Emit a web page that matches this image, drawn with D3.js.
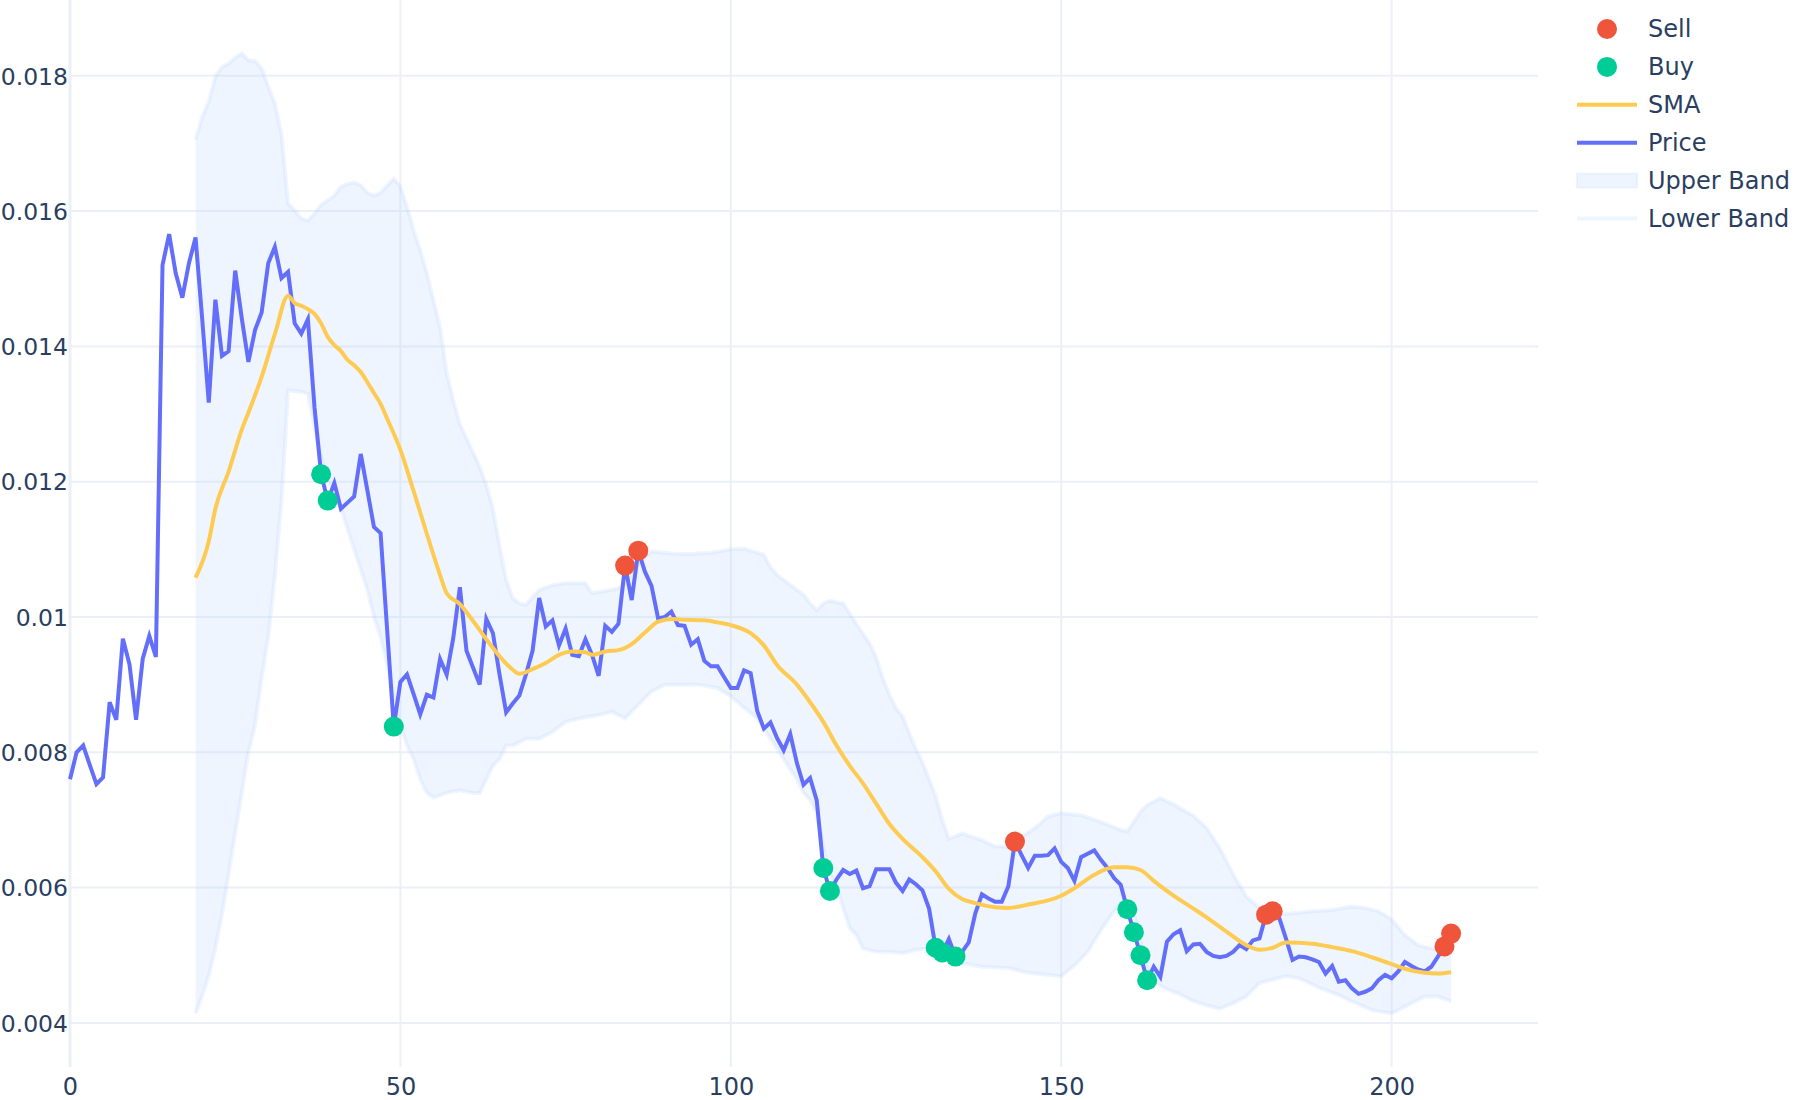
<!DOCTYPE html>
<html><head><meta charset="utf-8">
<script src="https://cdn.jsdelivr.net/npm/d3@7"></script>
<style>html,body{margin:0;padding:0;background:#fff}svg{display:block}</style>
</head><body>
<svg id="chart" width="1800" height="1100"></svg>
<script>
// ---------------- data ----------------
const price = [
0.0076,0.0080,0.0081,0.00781,0.00753,0.00763,0.00874,0.00848,0.00968,0.0093,
0.00848,0.00938,0.00972,0.00941,0.0152,0.01566,0.01508,0.01472,0.01523,0.01561,
0.01441,0.01317,0.01469,0.01386,0.01393,0.01512,0.01441,0.01377,0.01424,0.0145,
0.01523,0.01547,0.01501,0.0151,0.01434,0.01419,0.0144,0.0131,0.01211,0.01172,
0.01198,0.0116,0.01169,0.01178,0.01241,0.01187,0.01133,0.01124,0.0098,0.00838,
0.00904,0.00915,0.00886,0.00856,0.00885,0.00881,0.00938,0.00915,0.00969,0.01044,
0.0095,0.00925,0.009,0.00997,0.00976,0.00915,0.00859,0.00872,0.00884,0.00915,
0.0095,0.01028,0.00986,0.00995,0.00958,0.00983,0.00944,0.00942,0.00967,0.00944,
0.00913,0.00987,0.00978,0.0099,0.01076,0.01025,0.01098,0.01067,0.01046,0.00998,
0.01,0.01008,0.00988,0.00987,0.00959,0.00967,0.00935,0.00927,0.00927,0.00911,
0.00895,0.00895,0.00921,0.00917,0.00861,0.00835,0.00844,0.00821,0.00803,0.00827,
0.00784,0.00752,0.00762,0.00729,0.00629,0.00595,0.00612,0.00626,0.0062,0.00625,
0.00599,0.00602,0.00627,0.00627,0.00627,0.00607,0.00595,0.00612,0.00605,0.00596,
0.00569,0.00511,0.00504,0.00524,0.00498,0.00505,0.00519,0.00562,0.0059,0.00584,
0.00579,0.00579,0.00602,0.00668,0.00648,0.00629,0.00647,0.00647,0.00648,0.00658,
0.00638,0.00629,0.0061,0.00645,0.0065,0.00655,0.00641,0.00629,0.00614,0.00604,
0.00568,0.00534,0.005,0.00463,0.00483,0.00468,0.0052,0.00531,0.00537,0.00506,
0.00516,0.00517,0.00505,0.00499,0.00497,0.00499,0.00505,0.00515,0.00509,0.00522,
0.00525,0.0056,0.00565,0.00555,0.00525,0.00493,0.00498,0.00497,0.00494,0.0049,
0.00473,0.00484,0.00461,0.00463,0.00451,0.00443,0.00446,0.00451,0.00463,0.00471,
0.00466,0.00476,0.0049,0.00484,0.00479,0.00476,0.00483,0.00498,0.00513,0.00532
];

const smaX = [19,21,22,24,26,27,29,31,33,34,35,36,37,38,39,40,41,42,43,44,45,46,47,48,50,52,54,56,57,59,61,63,65,67,68,70,72,74,76,78,79,81,83,85,87,89,91,93,96,98,100,103,105,107,110,112,114,116,118,120,122,124,126,129,131,133,135,137,140,142,145,150,152,155,158,160,162,164,167,170,172,175,178,180,182,184,188,191,194,197,200,202,205,207,209];
const smaY = [0.01058,0.01112,0.0116,0.01215,0.01277,0.01302,0.01355,0.01418,0.01475,0.01464,0.0146,0.01455,0.01448,0.01434,0.01414,0.01402,0.01393,0.0138,0.01372,0.01362,0.01347,0.01331,0.01315,0.01293,0.01247,0.01186,0.01123,0.01062,0.01035,0.01019,0.00994,0.00967,0.00942,0.00922,0.00916,0.00923,0.00932,0.00944,0.00949,0.00948,0.00944,0.00949,0.00951,0.0096,0.00977,0.00993,0.00997,0.00996,0.00995,0.00992,0.00988,0.00976,0.00958,0.00929,0.009,0.00874,0.00845,0.0081,0.0078,0.00754,0.00724,0.00694,0.00672,0.00645,0.00624,0.00598,0.00583,0.00577,0.00571,0.0057,0.00575,0.00588,0.00599,0.00619,0.0063,0.0063,0.00626,0.0061,0.00588,0.00569,0.00556,0.00535,0.00515,0.00508,0.00511,0.00519,0.00517,0.00512,0.00506,0.00497,0.00487,0.0048,0.00474,0.00473,0.00475];

const upperX = [19,20,21,22,23,24,25,26,27,28,29,30,31,32,33,34,35,36,37,38,39,40,41,42,43,44,45,46,47,48,49,50,51,52,53,54,55,56,57,58,59,61,62,63,64,65,66,67,68,69,71,73,75,78,79,80,83,84,86,88,91,94,97,100,102,104,105,106,107,108,110,111,112,113,114,115,117,118,119,120,121,122,123,124,125,126,127,128,129,130,131,132,133,135,138,140,142,143,144,146,148,150,153,156,159,160,162,163,165,167,170,172,174,176,178,180,181,182,185,188,191,194,196,198,200,202,204,206,209];
const upperY = [0.01705,0.01739,0.01762,0.01799,0.01813,0.01818,0.01827,0.01833,0.01823,0.01822,0.01811,0.01784,0.01759,0.01715,0.01611,0.01601,0.01589,0.01586,0.01596,0.01609,0.01616,0.01623,0.01636,0.0164,0.01642,0.01638,0.01627,0.01623,0.01627,0.01638,0.01648,0.01636,0.01606,0.01572,0.01542,0.01508,0.01468,0.01429,0.0136,0.0132,0.01285,0.01243,0.01222,0.01195,0.0116,0.01105,0.01055,0.01028,0.0102,0.01018,0.0104,0.01047,0.0105,0.0105,0.01035,0.01037,0.01042,0.0105,0.0108,0.01097,0.01094,0.01093,0.01095,0.011,0.01101,0.01095,0.01092,0.01074,0.01062,0.01055,0.0104,0.01033,0.0102,0.0101,0.0102,0.01024,0.0102,0.01005,0.0099,0.00975,0.00961,0.0094,0.0091,0.00885,0.00865,0.00853,0.00828,0.00805,0.00785,0.0076,0.00735,0.007,0.00672,0.0068,0.0067,0.00661,0.0066,0.0066,0.00675,0.00688,0.00705,0.0071,0.00707,0.00697,0.00685,0.00683,0.00712,0.00722,0.00732,0.00723,0.00706,0.00688,0.00658,0.0062,0.00587,0.0057,0.00555,0.0056,0.00562,0.00565,0.00567,0.00572,0.0057,0.00565,0.00553,0.0053,0.00515,0.0051,0.00508];

const lowerX = [19,20,21,22,23,24,25,26,27,28,29,30,31,32,33,34,35,36,37,38,39,40,41,42,43,44,45,46,47,48,49,50,51,52,53,54,55,57,59,61,62,63,64,65,66,67,69,71,73,75,77,80,82,84,86,88,90,95,98,100,102,104,106,108,110,111,112,113,114,115,116,117,118,119,120,122,124,126,128,130,131,132,133,134,135,138,142,145,147,150,152,154,156,158,159,160,161,162,163,164,166,168,170,172,174,176,178,180,182,184,186,189,192,194,197,200,202,205,207,209];
const lowerY = [0.00414,0.0044,0.0047,0.0051,0.0056,0.0062,0.0068,0.0074,0.008,0.0084,0.0091,0.0097,0.0106,0.0117,0.01335,0.01334,0.01333,0.0133,0.0128,0.0124,0.012,0.0119,0.0116,0.0113,0.011,0.0107,0.0104,0.01,0.0097,0.0093,0.0088,0.0084,0.0081,0.0079,0.0076,0.0074,0.00733,0.0074,0.00744,0.0074,0.0074,0.0076,0.0078,0.0079,0.0081,0.0081,0.0082,0.0082,0.0083,0.00845,0.0085,0.00855,0.0086,0.0085,0.0087,0.0089,0.009,0.009,0.00895,0.00883,0.00866,0.0085,0.0082,0.0079,0.0076,0.0074,0.0073,0.0071,0.0066,0.0062,0.006,0.0057,0.0054,0.0053,0.0051,0.00505,0.00505,0.00503,0.00508,0.0051,0.00515,0.00512,0.00505,0.005,0.00488,0.00483,0.00481,0.00474,0.00472,0.00469,0.00485,0.00505,0.00537,0.00565,0.00577,0.0058,0.0056,0.0052,0.0048,0.0046,0.0045,0.00442,0.00432,0.00426,0.00421,0.00429,0.00439,0.00459,0.00464,0.00469,0.00466,0.00452,0.00441,0.00432,0.00419,0.00414,0.00424,0.00439,0.00439,0.00432];

const sellIdx = [84,86,143,181,182,208,209];
const buyIdx = [38,39,49,114,115,131,132,134,160,161,162,163];

const xTicks = [0,50,100,150,200];
const xTickLabels = ["0","50","100","150","200"];
const yTicks = [0.004,0.006,0.008,0.01,0.012,0.014,0.016,0.018];
const yTickLabels = ["0.004","0.006","0.008","0.01","0.012","0.014","0.016","0.018"];

const legendNames = ["Sell","Buy","SMA","Price","Upper Band","Lower Band"];

// ---------------- styles ----------------
const C = {
  price:"#636efa", sma:"#FECB52", sell:"#EF553B", buy:"#00CC96",
  band:"rgba(173,204,255,0.2)", grid:"#EBF0F8", text:"#2a3f5f"
};
const FONT = "'DejaVu Sans', Verdana, sans-serif";

const svg = d3.select("#chart");
const L = 70, R = 1538, T = 0, B = 1067;
const x = d3.scaleLinear().domain([0, 222.15]).range([L, R]);
const y = d3.scaleLinear().domain([0.003348, 0.01912]).range([B, T]);

// grid
const g = svg.append("g");
g.selectAll("line.h").data(yTicks).join("line")
  .attr("x1", L).attr("x2", R).attr("y1", d=>y(d)).attr("y2", d=>y(d))
  .attr("stroke", C.grid).attr("stroke-width", 2);
g.selectAll("line.v").data(xTicks.filter(d=>d!==0)).join("line")
  .attr("x1", d=>x(d)).attr("x2", d=>x(d)).attr("y1", T).attr("y2", B)
  .attr("stroke", C.grid).attr("stroke-width", 2);
// zero line
g.append("line").attr("x1", x(0)).attr("x2", x(0)).attr("y1", T).attr("y2", B)
  .attr("stroke", C.grid).attr("stroke-width", 3);

// axes
const yAxis = d3.axisLeft(y).tickValues(yTicks).tickSize(0).tickPadding(2)
  .tickFormat((d,i)=>yTickLabels[i]);
const ya = svg.append("g").attr("transform", `translate(${L},0)`).call(yAxis);
ya.select(".domain").remove();
ya.selectAll("text").attr("fill", C.text).style("font-family", FONT).style("font-size","23.5px").attr("dy","0.35em");

const xAxis = d3.axisBottom(x).tickValues(xTicks).tickSize(0).tickPadding(20)
  .tickFormat((d,i)=>xTickLabels[i]);
const xa = svg.append("g").attr("transform", `translate(0,${B})`).call(xAxis);
xa.select(".domain").remove();
xa.selectAll("text").attr("fill", C.text).style("font-family", FONT).style("font-size","24px").attr("dy","0.35em");

// band
const upperPts = upperX.map((d,i)=>[d, upperY[i]]);
const lowerPts = lowerX.map((d,i)=>[d, lowerY[i]]);
const line = d3.line().x(d=>x(d[0])).y(d=>y(d[1]));
svg.append("path")
  .attr("d", line(upperPts.concat(lowerPts.slice().reverse())) + "Z")
  .attr("fill", C.band).attr("stroke", "none");
svg.append("path").attr("d", line(lowerPts)).attr("fill","none")
  .attr("stroke", C.band).attr("stroke-width", 4);
svg.append("path").attr("d", line(upperPts)).attr("fill","none")
  .attr("stroke", C.band).attr("stroke-width", 4);

// price
const pricePts = price.map((v,i)=>[i, v]);
svg.append("path").attr("d", line(pricePts)).attr("fill","none")
  .attr("stroke", C.price).attr("stroke-width", 4);

// SMA
const smaPts = smaX.map((d,i)=>[d, smaY[i]]);
svg.append("path").attr("d", d3.line().x(d=>x(d[0])).y(d=>y(d[1])).curve(d3.curveMonotoneX)(smaPts))
  .attr("fill","none").attr("stroke", C.sma).attr("stroke-width", 4);

// markers
svg.append("g").selectAll("circle").data(buyIdx).join("circle")
  .attr("cx", d=>x(d)).attr("cy", d=>y(price[d])).attr("r", 10).attr("fill", C.buy);
svg.append("g").selectAll("circle").data(sellIdx).join("circle")
  .attr("cx", d=>x(d)).attr("cy", d=>y(price[d])).attr("r", 10).attr("fill", C.sell);

// legend
const lg = svg.append("g");
const ly = i => 29 + i*37.9;
legendNames.forEach((name, i) => {
  const yy = ly(i);
  if (name === "Sell" || name === "Buy") {
    lg.append("circle").attr("cx", 1607).attr("cy", yy).attr("r", 10)
      .attr("fill", name === "Sell" ? C.sell : C.buy);
  } else if (name === "SMA" || name === "Price") {
    lg.append("line").attr("x1", 1577).attr("x2", 1637).attr("y1", yy).attr("y2", yy)
      .attr("stroke", name === "SMA" ? C.sma : C.price).attr("stroke-width", 4);
  } else if (name === "Upper Band") {
    lg.append("rect").attr("x", 1577).attr("y", yy-7).attr("width", 60).attr("height", 14)
      .attr("fill", C.band).attr("stroke", C.band).attr("stroke-width", 2);
  } else {
    lg.append("line").attr("x1", 1577).attr("x2", 1637).attr("y1", yy).attr("y2", yy)
      .attr("stroke", C.band).attr("stroke-width", 4);
  }
  lg.append("text").attr("x", 1648).attr("y", yy).attr("dy","0.35em")
    .attr("fill", C.text).style("font-family", FONT).style("font-size","24px").text(name);
});
</script>
</body></html>
